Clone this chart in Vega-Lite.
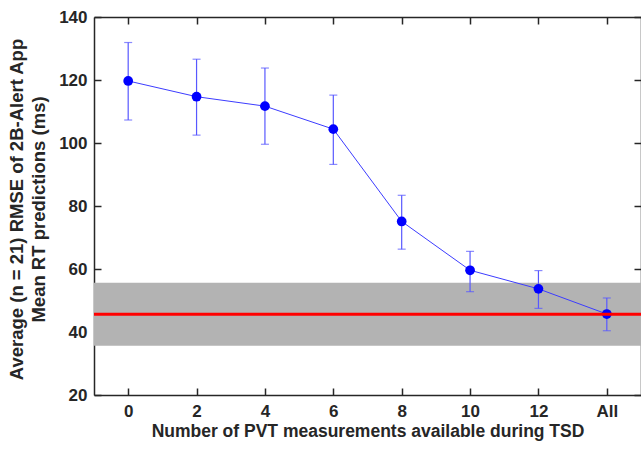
{
  "$schema": "https://vega.github.io/schema/vega-lite/v6.json",
  "width": 547,
  "height": 378,
  "autosize": {"type": "none"},
  "padding": {"left": 94, "top": 17, "right": 0, "bottom": 56},
  "background": "white",
  "config": {
    "font": "Liberation Sans",
    "view": {"stroke": null},
    "axis": {
      "labelFont": "Liberation Sans",
      "titleFont": "Liberation Sans",
      "labelFontSize": 17,
      "titleFontSize": 17.5,
      "labelFontWeight": "bold",
      "titleFontWeight": "bold",
      "labelColor": "#262626",
      "titleColor": "#262626",
      "domainColor": "#262626",
      "domainWidth": 1.5,
      "tickColor": "#262626",
      "tickWidth": 1.5,
      "grid": false
    }
  },
  "datasets": {
    "pts": [
      {"n": "0", "mean": 119.7, "lo": 107.3, "hi": 131.9},
      {"n": "2", "mean": 114.7, "lo": 102.5, "hi": 126.6},
      {"n": "4", "mean": 111.7, "lo": 99.6, "hi": 123.8},
      {"n": "6", "mean": 104.4, "lo": 93.2, "hi": 115.2},
      {"n": "8", "mean": 75.1, "lo": 66.3, "hi": 83.4},
      {"n": "10", "mean": 59.6, "lo": 52.8, "hi": 65.6},
      {"n": "12", "mean": 53.7, "lo": 47.5, "hi": 59.5},
      {"n": "All", "mean": 45.7, "lo": 40.4, "hi": 50.8}
    ],
    "ref": [
      {"mean": 45.6, "lo": 35.6, "hi": 55.6}
    ]
  },
  "resolve": {"axis": {"x": "independent", "y": "independent"}},
  "layer": [
    {
      "data": {"name": "ref"},
      "mark": {"type": "rect", "color": "#b3b3b3"},
      "encoding": {
        "y": {"field": "lo", "type": "quantitative", "scale": {"domain": [20, 140], "nice": false, "zero": false}, "axis": null},
        "y2": {"field": "hi"}
      }
    },
    {
      "data": {"name": "pts"},
      "mark": {"type": "line", "color": "#3c3cff", "strokeWidth": 1},
      "encoding": {
        "x": {"field": "n", "type": "ordinal", "sort": null, "scale": {"type": "point", "padding": 0.5},
          "axis": {"orient": "bottom", "title": "Number of PVT measurements available during TSD", "labelAngle": 0, "tickSize": -7, "labelPadding": 15, "titleY": 41, "titleBaseline": "alphabetic", "domain": true}},
        "y": {"field": "mean", "type": "quantitative", "scale": {"domain": [20, 140], "nice": false, "zero": false},
          "axis": {"orient": "left", "values": [20, 40, 60, 80, 100, 120, 140], "tickSize": -7, "labelPadding": 14,
            "title": ["Average (n = 21) RMSE of 2B-Alert App", "Mean RT predictions (ms)"],
            "titleFontSize": 18.5,
            "titleX": -78, "titleY": 192, "titleAngle": -90, "titleBaseline": "middle", "titleLineHeight": 22}}
      }
    },
    {
      "data": {"name": "pts"},
      "mark": {"type": "rule", "color": "#5858ff", "strokeWidth": 1.2},
      "encoding": {
        "x": {"field": "n", "type": "ordinal", "sort": null, "axis": null},
        "y": {"field": "lo", "type": "quantitative", "axis": null},
        "y2": {"field": "hi"}
      }
    },
    {
      "data": {"name": "pts"},
      "mark": {"type": "tick", "color": "#5858ff", "orient": "horizontal", "size": 8, "thickness": 1.2},
      "encoding": {
        "x": {"field": "n", "type": "ordinal", "sort": null, "axis": null},
        "y": {"field": "lo", "type": "quantitative", "axis": null}
      }
    },
    {
      "data": {"name": "pts"},
      "mark": {"type": "tick", "color": "#5858ff", "orient": "horizontal", "size": 8, "thickness": 1.2},
      "encoding": {
        "x": {"field": "n", "type": "ordinal", "sort": null, "axis": null},
        "y": {"field": "hi", "type": "quantitative", "axis": null}
      }
    },
    {
      "data": {"name": "pts"},
      "mark": {"type": "point", "filled": true, "color": "#0000ff", "size": 95, "opacity": 1},
      "encoding": {
        "x": {"field": "n", "type": "ordinal", "sort": null,
          "axis": {"orient": "top", "labels": false, "title": null, "tickSize": -7, "domain": true}},
        "y": {"field": "mean", "type": "quantitative",
          "axis": {"orient": "right", "labels": false, "title": null, "values": [20, 40, 60, 80, 100, 120, 140], "tickSize": -7, "domain": true}}
      }
    },
    {
      "data": {"name": "ref"},
      "mark": {"type": "rule", "color": "#ff0000", "strokeWidth": 3},
      "encoding": {
        "y": {"field": "mean", "type": "quantitative", "axis": null}
      }
    }
  ]
}
